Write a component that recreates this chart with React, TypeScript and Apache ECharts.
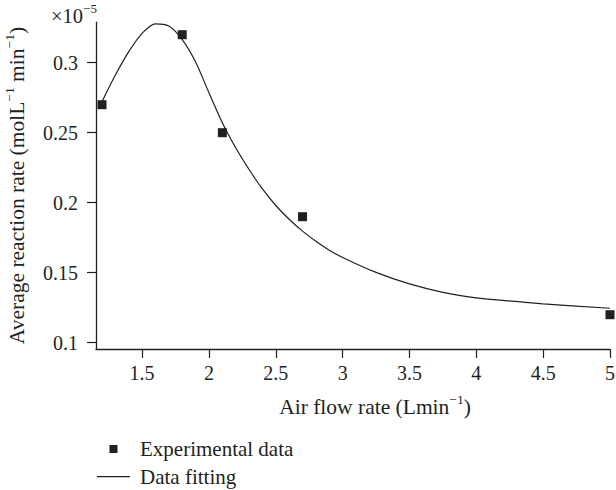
import React, { useEffect, useRef } from "react";
import * as echarts from "echarts";

const xTicks = [1.5, 2, 2.5, 3, 3.5, 4, 4.5, 5];
const yTicks = [0.1, 0.15, 0.2, 0.25, 0.3];

const expX = [1.2, 1.8, 2.1, 2.7, 5];
const expY = [0.27, 0.32, 0.25, 0.19, 0.12];

const fitX = [1.2, 1.3, 1.4, 1.5, 1.6, 1.7, 1.8, 1.9, 2.0, 2.1, 2.2, 2.3, 2.4, 2.5, 2.6, 2.7, 2.8, 2.9, 3.0, 3.25, 3.5, 3.75, 4.0, 4.5, 5.0];
const fitY = [0.2722, 0.2912, 0.3079, 0.321, 0.3278, 0.3262, 0.3165, 0.3005, 0.2785, 0.2571, 0.2392, 0.2237, 0.2098, 0.198, 0.1882, 0.1797, 0.1725, 0.1661, 0.1609, 0.1502, 0.142, 0.136, 0.132, 0.1278, 0.1246];

const INK = "#231f20";
const FONT = "'Liberation Serif', 'Times New Roman', serif";

const SQUARE_ICON = "path://M0,0M38,8M12.5,0h8v8h-8z";
const LINE_ICON = "path://M0,0M38,8M0,3.4h33v1.2h-33z";

export default function App() {
  const ref = useRef<HTMLDivElement>(null);
  useEffect(() => {
    const chart = echarts.init(ref.current!, null, { renderer: "svg" });
    const mkRich = () => ({
      n: { fontFamily: FONT, fontSize: 21.5, fontWeight: "normal", color: INK, lineHeight: 21, padding: [8, 0, 0, 0] },
      s: { fontFamily: FONT, fontSize: 13.5, fontWeight: "normal", color: INK, lineHeight: 13, verticalAlign: "top" },
    });
    const legendBase = {
      left: 97,
      orient: "horizontal",
      itemWidth: 38,
      itemHeight: 8,
      padding: 0,
      selectedMode: false,
      textStyle: { fontFamily: FONT, fontSize: 21, color: INK },
    };
    chart.setOption({
      animation: false,
      backgroundColor: "#fff",
      title: {
        text: "{n|×10}{s|−5}",
        left: 51,
        top: 2,
        padding: 0,
        textStyle: {
          fontWeight: "normal",
          fontFamily: FONT,
          fontSize: 20.5,
          color: INK,
          rich: {
            n: { fontFamily: FONT, fontSize: 20.5, fontWeight: "normal", color: INK, lineHeight: 20, padding: [8, 0, 0, 0] },
            s: { fontFamily: FONT, fontSize: 13, fontWeight: "normal", color: INK, lineHeight: 13, verticalAlign: "top" },
          },
        },
      },
      grid: { left: 96, right: 6, top: 22.1, bottom: 141, containLabel: false, outerBoundsMode: "none" },
      legend: [
        {
          ...legendBase,
          top: 438.5,
          data: [{ name: "Experimental data", icon: SQUARE_ICON, itemStyle: { color: INK, borderWidth: 0, opacity: 1 } }],
        },
        {
          ...legendBase,
          top: 466.2,
          data: [{ name: "Data fitting", icon: LINE_ICON, itemStyle: { color: INK, borderWidth: 0, opacity: 1 } }],
        },
      ],
      xAxis: {
        type: "value",
        min: 1.155,
        max: 5,
        name: "{n|Air flow rate (Lmin}{s|−1}{n|)}",
        nameLocation: "middle",
        nameGap: 41,
        nameTextStyle: { rich: mkRich(), padding: [0, 0, 0, 44] },
        axisLine: { show: true, onZero: false, lineStyle: { color: INK, width: 1.3 } },
        axisTick: { show: true, length: 9, inside: false, customValues: xTicks, lineStyle: { color: INK, width: 1.2 } },
        axisLabel: { customValues: xTicks, margin: 14, fontFamily: FONT, fontSize: 20, color: INK },
        splitLine: { show: false },
      },
      yAxis: {
        type: "value",
        min: 0.0955,
        max: 0.329,
        name: "{n|Average reaction rate (molL}{s|−1}{n| min}{s|−1}{n|)}",
        nameLocation: "middle",
        nameRotate: 90,
        nameGap: 67,
        nameTextStyle: { rich: mkRich(), padding: [0, 0, 6, 0] },
        axisLine: { show: true, onZero: false, lineStyle: { color: INK, width: 1.3 } },
        axisTick: { show: true, length: 9, inside: false, customValues: yTicks, lineStyle: { color: INK, width: 1.2 } },
        axisLabel: { customValues: yTicks, margin: 18, fontFamily: FONT, fontSize: 20, color: INK },
        splitLine: { show: false },
      },
      series: [
        {
          name: "Experimental data",
          type: "scatter",
          symbol: "rect",
          symbolSize: 9,
          clip: false,
          itemStyle: { color: INK, opacity: 1 },
          data: expX.map((x, i) => [x, expY[i]]),
          z: 3,
        },
        {
          name: "Data fitting",
          type: "line",
          smooth: 0.3,
          showSymbol: false,
          symbol: "none",
          clip: false,
          lineStyle: { color: INK, width: 1.2 },
          itemStyle: { color: INK },
          data: fitX.map((x, i) => [x, fitY[i]]),
          z: 2,
        },
      ],
    });
    return () => chart.dispose();
  }, []);
  return (
    <div
      ref={ref}
      style={{ position: "fixed", left: 0, top: 0, width: 616, height: 490, background: "#fff" }}
    />
  );
}
